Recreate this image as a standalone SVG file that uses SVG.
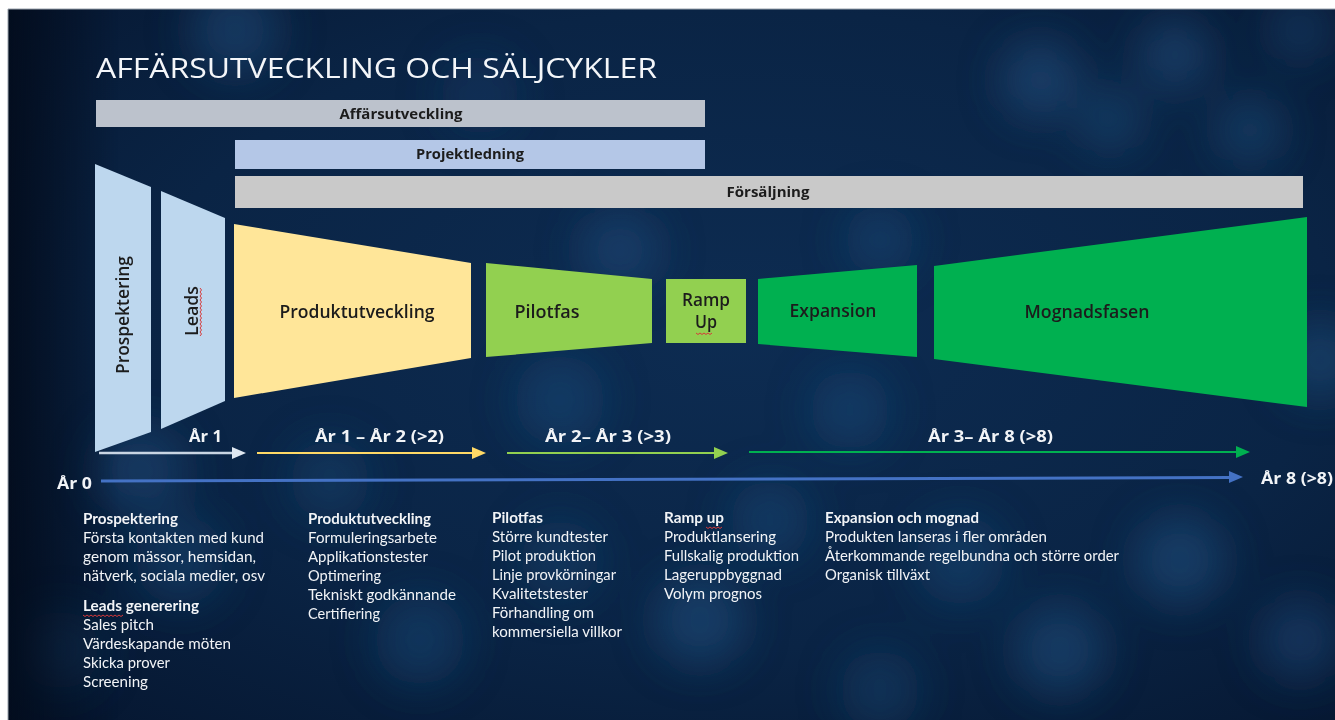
<svg xmlns="http://www.w3.org/2000/svg" width="1335" height="720" viewBox="0 0 1335 720">
<defs>
<radialGradient id="bg" cx="0.55" cy="0.45" r="0.75">
<stop offset="0" stop-color="#0d2c52"/>
<stop offset="0.6" stop-color="#0a2445"/>
<stop offset="1" stop-color="#061731"/>
</radialGradient>
<linearGradient id="leftdark" x1="0" y1="0" x2="1" y2="0">
<stop offset="0" stop-color="#030c1c" stop-opacity="0.9"/>
<stop offset="1" stop-color="#030c1c" stop-opacity="0"/>
</linearGradient>
<clipPath id="panel"><rect x="8" y="9" width="1327" height="711"/></clipPath>
<filter id="blur" x="-50%" y="-50%" width="200%" height="200%"><feGaussianBlur stdDeviation="22"/></filter>
<style>
.title{font-family:"Open Sans","Liberation Sans",sans-serif;font-size:27px;font-weight:500;fill:#f4f6f9;}
.bar{font-family:"Open Sans","Liberation Sans",sans-serif;font-size:14px;font-weight:700;fill:#1c1c1c;text-anchor:middle;}
.lbl{font-family:"Open Sans","Liberation Sans",sans-serif;font-size:18px;font-weight:600;fill:#1c1c1c;text-anchor:middle;}
.yr{font-family:"Open Sans","Liberation Sans",sans-serif;font-size:16px;font-weight:700;fill:#f2f4f7;}
.b{font-family:"Lato","Open Sans",sans-serif;font-size:15px;fill:#f2f4f7;}
.bh{font-family:"Lato","Open Sans",sans-serif;font-size:15px;font-weight:700;fill:#f2f4f7;}
.sq{fill:none;stroke:#d8393a;stroke-width:1;}
</style>
</defs>
<rect x="0" y="0" width="1335" height="720" fill="#ffffff"/>
<rect x="8" y="9" width="1327" height="711" fill="url(#bg)"/>
<g clip-path="url(#panel)">
<g id="bokeh" filter="url(#blur)">
<circle cx="235" cy="30" r="45" fill="#22588a" opacity="0.45"/>
<circle cx="480" cy="95" r="40" fill="#1a4a7c" opacity="0.3"/>
<circle cx="1040" cy="80" r="38" fill="#2b5f92" opacity="0.45"/>
<circle cx="1110" cy="120" r="30" fill="#2b5f92" opacity="0.4"/>
<circle cx="1175" cy="55" r="34" fill="#2b5f92" opacity="0.45"/>
<circle cx="1250" cy="130" r="32" fill="#2b5f92" opacity="0.4"/>
<circle cx="1300" cy="30" r="30" fill="#2b5f92" opacity="0.35"/>
<circle cx="620" cy="250" r="40" fill="#1f5285" opacity="0.45"/>
<circle cx="880" cy="240" r="35" fill="#1f5285" opacity="0.4"/>
<circle cx="560" cy="400" r="45" fill="#1f5285" opacity="0.4"/>
<circle cx="850" cy="410" r="40" fill="#1f5285" opacity="0.4"/>
<circle cx="1320" cy="360" r="40" fill="#2b5f92" opacity="0.4"/>
<circle cx="140" cy="470" r="45" fill="#1f5285" opacity="0.45"/>
<circle cx="330" cy="480" r="40" fill="#1f5285" opacity="0.35"/>
<circle cx="180" cy="560" r="45" fill="#1f5285" opacity="0.4"/>
<circle cx="420" cy="640" r="45" fill="#1f5285" opacity="0.4"/>
<circle cx="560" cy="560" r="40" fill="#1f5285" opacity="0.35"/>
<circle cx="700" cy="620" r="45" fill="#235a8e" opacity="0.45"/>
<circle cx="770" cy="520" r="40" fill="#1f5285" opacity="0.4"/>
<circle cx="960" cy="560" r="45" fill="#1f5285" opacity="0.4"/>
<circle cx="1060" cy="650" r="45" fill="#235a8e" opacity="0.45"/>
<circle cx="1180" cy="560" r="45" fill="#235a8e" opacity="0.45"/>
<circle cx="1300" cy="640" r="40" fill="#235a8e" opacity="0.4"/>
<circle cx="60" cy="650" r="40" fill="#1f5285" opacity="0.35"/>
<circle cx="880" cy="690" r="40" fill="#1f5285" opacity="0.35"/>
</g>
</g>
<rect x="8" y="9" width="110" height="711" fill="url(#leftdark)"/>
<line x1="8" y1="9" x2="1335" y2="9" stroke="#9aa3ad" stroke-width="1"/>
<line x1="8" y1="9" x2="8" y2="720" stroke="#9aa3ad" stroke-width="1"/>

<text class="title" x="96" y="78" textLength="561" lengthAdjust="spacingAndGlyphs">AFFÄRSUTVECKLING OCH SÄLJCYKLER</text>

<g id="bar-affarsutveckling">
<rect x="96" y="100" width="609" height="27" fill="#bcc2cc"/>
<text class="bar" x="401" y="119" textLength="123" lengthAdjust="spacingAndGlyphs">Affärsutveckling</text>
</g>
<g id="bar-projektledning">
<rect x="235" y="140" width="470" height="29" fill="#b4c7e7"/>
<text class="bar" x="470" y="159" textLength="108" lengthAdjust="spacingAndGlyphs">Projektledning</text>
</g>
<g id="bar-forsaljning">
<rect x="235" y="176" width="1068" height="32" fill="#c9c9c9"/>
<text class="bar" x="768" y="197" textLength="83" lengthAdjust="spacingAndGlyphs">Försäljning</text>
</g>

<g id="node-prospektering">
<polygon points="95,164 151,187 151,432 95,452" fill="#bdd7ee"/>
<text class="lbl" transform="translate(129,315) rotate(-90)" x="0" y="0" textLength="118" lengthAdjust="spacingAndGlyphs">Prospektering</text>
</g>
<g id="node-leads">
<polygon points="161,191 225,218 225,401 161,429" fill="#bdd7ee"/>
<text class="lbl" transform="translate(198,311) rotate(-90)" x="0" y="0" textLength="50" lengthAdjust="spacingAndGlyphs">Leads</text>
<path class="sq" d="M200,336 l1.5,-2 l-1.5,-2 l1.5,-2 l-1.5,-2 l1.5,-2 l-1.5,-2 l1.5,-2 l-1.5,-2 l1.5,-2 l-1.5,-2 l1.5,-2 l-1.5,-2 l1.5,-2 l-1.5,-2 l1.5,-2 l-1.5,-2 l1.5,-2 l-1.5,-2 l1.5,-2 l-1.5,-2 l1.5,-2 l-1.5,-2 l1.5,-2 l-1.5,-2"/>
</g>
<g id="node-produktutveckling">
<polygon points="234,224 471,263 471,358 234,398" fill="#ffe699"/>
<text class="lbl" x="357" y="318" textLength="155" lengthAdjust="spacingAndGlyphs">Produktutveckling</text>
</g>
<g id="node-pilotfas">
<polygon points="486,263 652,279 652,343 486,357" fill="#92d050"/>
<text class="lbl" x="547" y="318" textLength="65" lengthAdjust="spacingAndGlyphs">Pilotfas</text>
</g>
<g id="node-rampup">
<rect x="666" y="279" width="80" height="64" fill="#92d050"/>
<text class="lbl" x="706" y="306" textLength="48" lengthAdjust="spacingAndGlyphs">Ramp</text>
<text class="lbl" x="706" y="328" textLength="22" lengthAdjust="spacingAndGlyphs">Up</text>
<path class="sq" d="M696,333 l2,1.5 l2,-1.5 l2,1.5 l2,-1.5 l2,1.5 l2,-1.5 l2,1.5 l2,-1.5"/>
</g>
<g id="node-expansion">
<polygon points="758,279 917,265 917,357 758,344" fill="#00b050"/>
<text class="lbl" x="833" y="317" textLength="87" lengthAdjust="spacingAndGlyphs">Expansion</text>
</g>
<g id="node-mognadsfasen">
<polygon points="934,266 1307,217 1307,407 934,359" fill="#00b050"/>
<text class="lbl" x="1087" y="318" textLength="125" lengthAdjust="spacingAndGlyphs">Mognadsfasen</text>
</g>

<g id="connectors">
<line x1="99" y1="453" x2="234" y2="453" stroke="#c9d5e3" stroke-width="2.5"/>
<polygon points="232,447 246,453 232,459" fill="#dfe7f0"/>
<line x1="257" y1="453" x2="474" y2="453" stroke="#ffd966" stroke-width="2"/>
<polygon points="472,447 486,453 472,459" fill="#ffd966"/>
<line x1="507" y1="453" x2="716" y2="453" stroke="#92d050" stroke-width="2"/>
<polygon points="714,447 728,453 714,459" fill="#92d050"/>
<line x1="749" y1="452" x2="1238" y2="452" stroke="#00b050" stroke-width="2"/>
<polygon points="1236,446 1250,452 1236,458" fill="#00b050"/>
<line x1="101" y1="481" x2="1231" y2="477.5" stroke="#4472c4" stroke-width="3"/>
<polygon points="1229,471 1243,477 1229,483" fill="#4472c4"/>
</g>

<g id="year-labels">
<text class="yr" x="189" y="442" textLength="33" lengthAdjust="spacingAndGlyphs">År 1</text>
<text class="yr" x="315" y="442" textLength="129" lengthAdjust="spacingAndGlyphs">År 1 – År 2 (&gt;2)</text>
<text class="yr" x="545" y="442" textLength="126" lengthAdjust="spacingAndGlyphs">År 2– År 3 (&gt;3)</text>
<text class="yr" x="928" y="442" textLength="125" lengthAdjust="spacingAndGlyphs">År 3– År 8 (&gt;8)</text>
<text class="yr" x="57" y="489" font-size="17" textLength="35" lengthAdjust="spacingAndGlyphs">År 0</text>
<text class="yr" x="1261" y="484" font-size="17" textLength="72" lengthAdjust="spacingAndGlyphs">År 8 (&gt;8)</text>
</g>

<g id="desc-prospektering">
<text class="bh" x="83" y="524" textLength="95" lengthAdjust="spacingAndGlyphs">Prospektering</text>
<text class="b" x="83" y="543" textLength="181" lengthAdjust="spacingAndGlyphs">Första kontakten med kund</text>
<text class="b" x="83" y="562" textLength="173" lengthAdjust="spacingAndGlyphs">genom mässor, hemsidan,</text>
<text class="b" x="83" y="581" textLength="182" lengthAdjust="spacingAndGlyphs">nätverk, sociala medier, osv</text>
<text class="bh" x="83" y="611" textLength="116" lengthAdjust="spacingAndGlyphs">Leads generering</text>
<path class="sq" d="M83,615 l2,1.5 l2,-1.5 l2,1.5 l2,-1.5 l2,1.5 l2,-1.5 l2,1.5 l2,-1.5 l2,1.5 l2,-1.5 l2,1.5 l2,-1.5 l2,1.5 l2,-1.5 l2,1.5 l2,-1.5 l2,1.5 l2,-1.5 l2,1.5 l2,-1.5"/>
<text class="b" x="83" y="630" textLength="71" lengthAdjust="spacingAndGlyphs">Sales pitch</text>
<text class="b" x="83" y="649" textLength="148" lengthAdjust="spacingAndGlyphs">Värdeskapande möten</text>
<text class="b" x="83" y="668" textLength="87" lengthAdjust="spacingAndGlyphs">Skicka prover</text>
<text class="b" x="83" y="687" textLength="65" lengthAdjust="spacingAndGlyphs">Screening</text>
</g>
<g id="desc-produktutveckling">
<text class="bh" x="308" y="524" textLength="123" lengthAdjust="spacingAndGlyphs">Produktutveckling</text>
<text class="b" x="308" y="543" textLength="129" lengthAdjust="spacingAndGlyphs">Formuleringsarbete</text>
<text class="b" x="308" y="562" textLength="120" lengthAdjust="spacingAndGlyphs">Applikationstester</text>
<text class="b" x="308" y="581" textLength="73" lengthAdjust="spacingAndGlyphs">Optimering</text>
<text class="b" x="308" y="600" textLength="148" lengthAdjust="spacingAndGlyphs">Tekniskt godkännande</text>
<text class="b" x="308" y="619" textLength="72" lengthAdjust="spacingAndGlyphs">Certifiering</text>
</g>
<g id="desc-pilotfas">
<text class="bh" x="492" y="523" textLength="51" lengthAdjust="spacingAndGlyphs">Pilotfas</text>
<text class="b" x="492" y="542" textLength="116" lengthAdjust="spacingAndGlyphs">Större kundtester</text>
<text class="b" x="492" y="561" textLength="104" lengthAdjust="spacingAndGlyphs">Pilot produktion</text>
<text class="b" x="492" y="580" textLength="124" lengthAdjust="spacingAndGlyphs">Linje provkörningar</text>
<text class="b" x="492" y="599" textLength="96" lengthAdjust="spacingAndGlyphs">Kvalitetstester</text>
<text class="b" x="492" y="618" textLength="102" lengthAdjust="spacingAndGlyphs">Förhandling om</text>
<text class="b" x="492" y="637" textLength="130" lengthAdjust="spacingAndGlyphs">kommersiella villkor</text>
</g>
<g id="desc-rampup">
<text class="bh" x="664" y="523" textLength="60" lengthAdjust="spacingAndGlyphs">Ramp up</text>
<path class="sq" d="M706,527 l2,1.5 l2,-1.5 l2,1.5 l2,-1.5 l2,1.5 l2,-1.5 l2,1.5 l2,-1.5"/>
<text class="b" x="664" y="542" textLength="112" lengthAdjust="spacingAndGlyphs">Produktlansering</text>
<text class="b" x="664" y="561" textLength="135" lengthAdjust="spacingAndGlyphs">Fullskalig produktion</text>
<text class="b" x="664" y="580" textLength="118" lengthAdjust="spacingAndGlyphs">Lageruppbyggnad</text>
<text class="b" x="664" y="599" textLength="98" lengthAdjust="spacingAndGlyphs">Volym prognos</text>
</g>
<g id="desc-expansion">
<text class="bh" x="825" y="523" textLength="154" lengthAdjust="spacingAndGlyphs">Expansion och mognad</text>
<text class="b" x="825" y="542" textLength="222" lengthAdjust="spacingAndGlyphs">Produkten lanseras i fler områden</text>
<text class="b" x="825" y="561" textLength="294" lengthAdjust="spacingAndGlyphs">Återkommande regelbundna och större order</text>
<text class="b" x="825" y="580" textLength="105" lengthAdjust="spacingAndGlyphs">Organisk tillväxt</text>
</g>
</svg>
